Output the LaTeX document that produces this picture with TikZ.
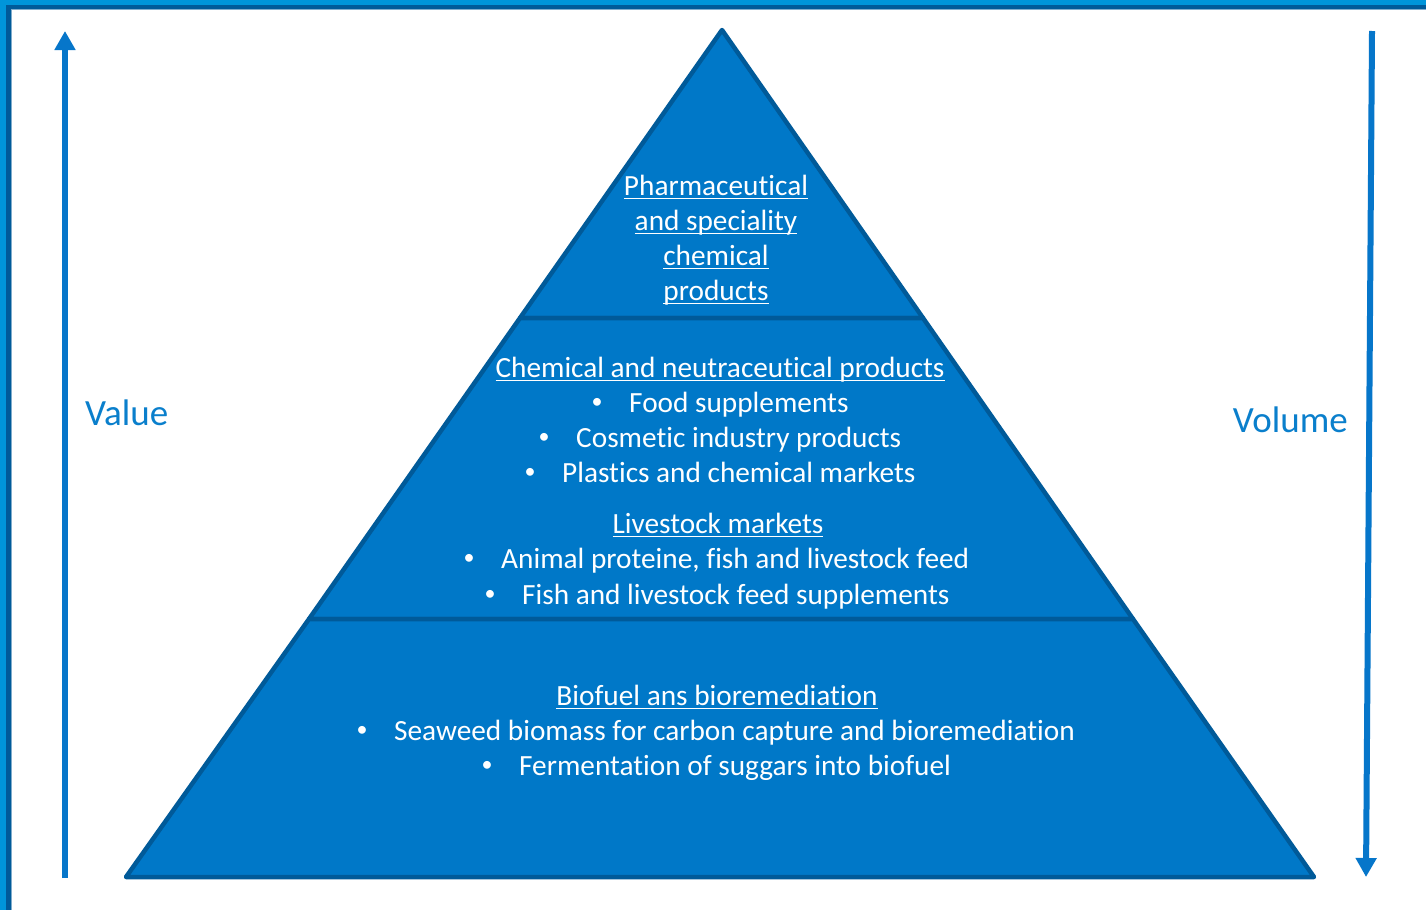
\documentclass[tikz,border=0pt]{standalone}
\usepackage{fontspec}
\setmainfont{Carlito}[Ligatures={NoCommon}]
\usetikzlibrary{arrows.meta}
\definecolor{fillblue}{HTML}{0078C8}
\definecolor{edgeblue}{HTML}{005A99}
\definecolor{lightb}{HTML}{0095DA}
\definecolor{darkb}{HTML}{005A99}
\definecolor{arrowblue}{HTML}{0676CA}
\definecolor{labelblue}{HTML}{0A7FCC}
\newcommand{\ul}[1]{\setbox0\hbox{#1}\rlap{\rule[-4.2pt]{\wd0}{1.7pt}}\box0}
\tikzset{
  tier/.style={fill=fillblue,draw=edgeblue,line width=4.5pt,line join=round},
  txt/.style={text=white,font=\fontsize{29.3}{34}\selectfont,inner sep=0pt},
  bul/.style={text=white,font=\fontsize{22}{26}\selectfont,inner sep=0pt,anchor=center},
  itm/.style={txt,anchor=base west},
  ttl/.style={txt,anchor=base},
  axis/.style={draw=arrowblue,line width=6pt,-{Triangle[length=19pt,width=20pt]}},
  side/.style={text=labelblue,font=\fontsize{37}{42}\selectfont,inner sep=0pt}
}
\begin{document}
\begin{tikzpicture}[x=1pt,y=-1pt]
\useasboundingbox (0,0) rectangle (1426,910);
% frame
\fill[white] (0,0) rectangle (1426,910);
\fill[lightb] (0,0) rectangle (1426,4.5);
\fill[lightb] (0,0) rectangle (6,910);
\fill[darkb] (6,4.5) rectangle (1426,9.3);
\fill[darkb] (6,4.5) rectangle (11,910);
\draw[color=darkb!50,line width=0.8pt] (11,9.7) -- (1426,9.7);
\draw[color=darkb!50,line width=0.8pt] (11.4,9.7) -- (11.4,910);
% pyramid
\coordinate (apex) at (722,30);
\coordinate (t1l) at (520,318);
\coordinate (t1r) at (923,318);
\coordinate (t2l) at (309,619);
\coordinate (t2r) at (1133,619);
\coordinate (bl) at (126,877);
\coordinate (br) at (1314,877);
\draw[tier] (apex) -- (t1r) -- (t1l) -- cycle;
\draw[tier] (t1l) -- (t1r) -- (t2r) -- (t2l) -- cycle;
\draw[tier] (t2l) -- (t2r) -- (br) -- (bl) -- cycle;
% top tier text
\node[ttl] (p1) at (716,195) {\ul{Pharmaceutical}};
\node[ttl] (p2) at (716,230) {\ul{and speciality}};
\node[ttl] (p3) at (716,265) {\ul{chemical}};
\node[ttl] (p4) at (716,300) {\ul{products}};
% middle tier text
\node[ttl] (m0) at (720,377) {\ul{Chemical and neutraceutical products}};
\node[bul] (b1) at (597,403) {•};
\node[itm] (m1) at (629,412) {Food supplements};
\node[bul] (b2) at (544,438) {•};
\node[itm] (m2) at (576,447) {Cosmetic industry products};
\node[bul] (b3) at (530,473) {•};
\node[itm] (m3) at (562,482) {Plastics and chemical markets};
\node[ttl] (l0) at (718,533) {\ul{Livestock markets}};
\node[bul] (b4) at (469,559) {•};
\node[itm] (l1) at (501,568) {Animal proteine, fish and livestock feed};
\node[bul] (b5) at (490,595) {•};
\node[itm] (l2) at (522,604) {Fish and livestock feed supplements};
% bottom tier text
\node[ttl] (f0) at (717,705) {\ul{Biofuel ans bioremediation}};
\node[bul] (b6) at (362,731) {•};
\node[itm] (f1) at (394,740) {Seaweed biomass for carbon capture and bioremediation};
\node[bul] (b7) at (487,766) {•};
\node[itm] (f2) at (519,775) {Fermentation of suggars into biofuel};
% side arrows
\coordinate (vb) at (65,878);
\coordinate (vt) at (65,31);
\coordinate (ot) at (1372,31);
\coordinate (ob) at (1366,877);
\draw[axis] (vb) -- (vt);
\draw[axis] (ot) -- (ob);
\node[side,anchor=west] (value) at (85,413) {Value};
\node[side,anchor=east] (volume) at (1348,420) {Volume};
\end{tikzpicture}
\end{document}
